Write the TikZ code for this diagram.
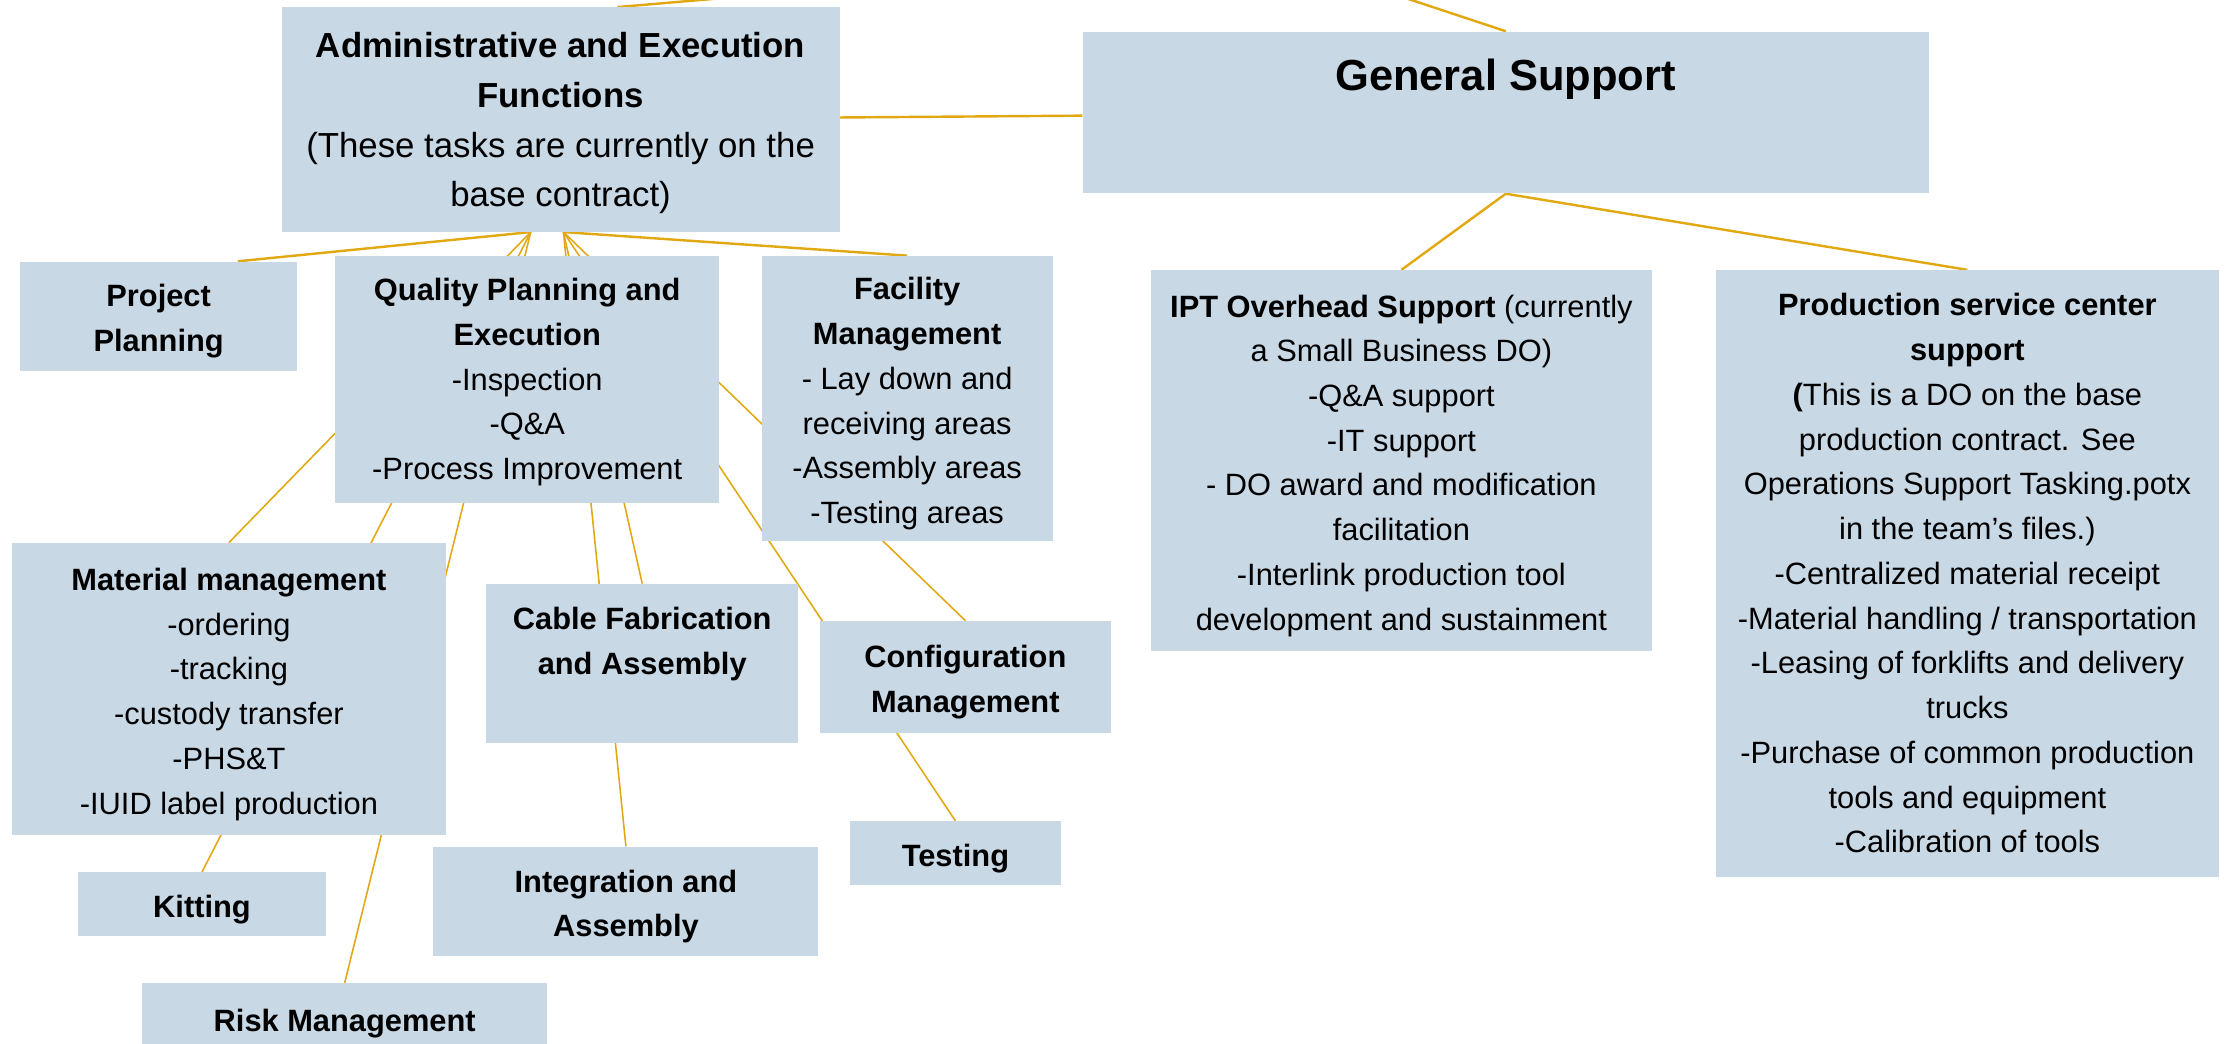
\documentclass[tikz,border=0pt]{standalone}
\usepackage{fontspec}
\setmainfont{Liberation Sans}
\usetikzlibrary{backgrounds,calc}
\definecolor{boxfill}{RGB}{200,216,229}
\definecolor{linkcol}{RGB}{226,168,18}
\newcommand{\myfirst}{\rule{0pt}{23pt}}
\newcommand{\mysmall}{\rule{0pt}{19.5pt}}
\tikzset{
  box/.style={draw=none, fill=boxfill, inner sep=0pt, align=center, anchor=north west,
              font=\fontsize{21.7}{31.5}\selectfont},
  mainlink/.style={draw=linkcol, line width=1.7pt},
  sublink/.style={draw=linkcol, line width=1.1pt},
}
\begin{document}
\begin{tikzpicture}[x=1pt,y=-1pt]
\useasboundingbox (0,0) rectangle (1568,735);

\node[box, minimum width=393, minimum height=158, font=\fontsize{24.5}{35}\selectfont] (admin) at (198,5)
  {\myfirst\textbf{Administrative and Execution}\\\textbf{Functions}\\(These tasks are currently on the\\base contract)};
\node[box, minimum width=596, minimum height=114] (gs) at (762,22) {};
\node[font=\bfseries\fontsize{30.6}{36}\selectfont, inner sep=0pt] (gst) at (1060,56) {General Support};

\node[box, minimum width=195, minimum height=77] (pp) at (14,184) {\myfirst\textbf{Project}\\\textbf{Planning}};
\node[box, minimum width=270, minimum height=174] (qual) at (236,180)
  {\mysmall\textbf{Quality Planning and}\\\textbf{Execution}\\-Inspection\\-Q\&A\\-Process Improvement};
\node[box, minimum width=205, minimum height=201] (fac) at (536,180)
  {\myfirst\textbf{Facility}\\\textbf{Management}\\- Lay down and\\receiving areas\\-Assembly areas\\-Testing areas};
\node[box, minimum width=353, minimum height=268] (ipt) at (810,190)
  {\myfirst\textbf{IPT Overhead Support} (currently\\a Small Business DO)\\-Q\&A support\\-IT support\\- DO award and modification\\facilitation\\-Interlink production tool\\development and sustainment};
\node[box, minimum width=354, minimum height=427] (prod) at (1208,190)
  {\textbf{Production service center}\\\textbf{support}\\\textbf{(}This is a DO on the base\\production contract. See\\Operations Support Tasking.potx\\in the team's files.)\\-Centralized material receipt\\-Material handling / transportation\\-Leasing of forklifts and delivery\\trucks\\-Purchase of common production\\tools and equipment\\-Calibration of tools};
\node[box, minimum width=306, minimum height=206] (mat) at (8,382)
  {\myfirst\textbf{Material management}\\-ordering\\-tracking\\-custody transfer\\-PHS\&T\\-IUID label production};
\node[box, minimum width=220, minimum height=112] (cab) at (342,411)
  {\textbf{Cable Fabrication}\\\textbf{and Assembly}\\\mbox{}};
\node[box, minimum width=205, minimum height=79] (conf) at (577,437)
  {\myfirst\textbf{Configuration}\\\textbf{Management}};
\node[box, minimum width=174, minimum height=45] (kit) at (55,614) {\myfirst\textbf{Kitting}};
\node[box, minimum width=271, minimum height=77] (integ) at (305,596)
  {\myfirst\textbf{Integration and}\\\textbf{Assembly}};
\node[box, minimum width=149, minimum height=45] (test) at (598,578) {\myfirst\textbf{Testing}};
\node[box, minimum width=285, minimum height=50] (risk) at (100,692) {\myfirst\textbf{Risk Management}};

\coordinate (aL) at ($(admin.south)+(-21,0)$);
\coordinate (aR) at ($(admin.south)+(2,0)$);
\coordinate (parent) at (891,-34);
\coordinate (adminIn) at ($(admin.north)+(40,0)$);
\coordinate (ppIn) at ($(pp.north west)!0.785!(pp.north east)$);

\begin{scope}[on background layer]
  \draw[mainlink] (parent) -- (adminIn);
  \draw[mainlink] (parent) -- (gs.north);
  \draw[mainlink] (admin) -- (gs);
  \draw[mainlink] (aL) -- (ppIn);
  \draw[mainlink] (aR) -- (fac.north);
  \draw[mainlink] (gs.south) -- (ipt.north);
  \draw[mainlink] (gs.south) -- (prod.north);
  \draw[sublink] (aL) -- (mat.north);
  \draw[sublink] (aL) -- (kit.north);
  \draw[sublink] (aL) -- (risk.north);
  \draw[sublink] (aR) -- (cab.north);
  \draw[sublink] (aR) -- (integ.north);
  \draw[sublink] (aR) -- (conf.north);
  \draw[sublink] (aR) -- (test.north);
\end{scope}
\end{tikzpicture}
\end{document}
